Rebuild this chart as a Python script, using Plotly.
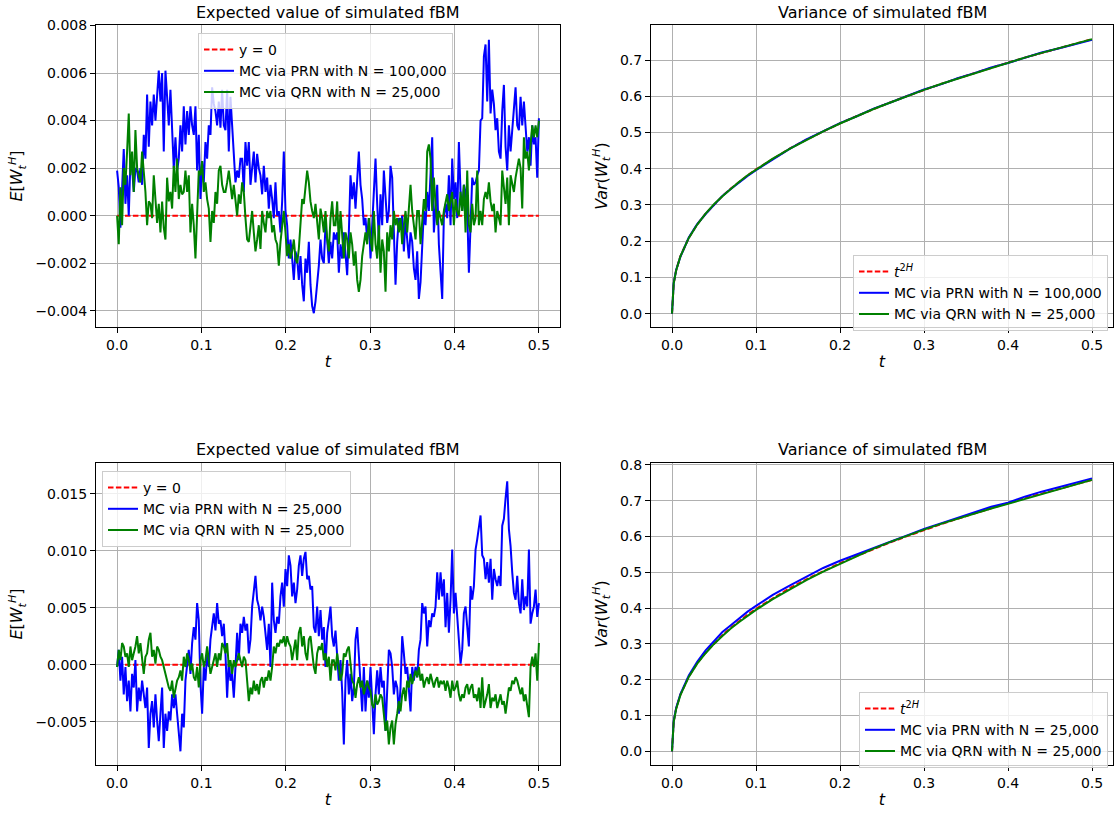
import numpy as np
import plotly.graph_objects as go

# ---------------- data ----------------
N_STEPS = 254
T = np.linspace(0.0, 0.5, N_STEPS)
SCALE = 1e-3  # mean values below are given in units of 1e-3

# Top-left: mean of simulated fBM, PRN N=100,000
TL_PRN = [
    1.9, 1.2, -0.5, 1.3, 2.8, 0.5, 1.7, 0.0, 2.3, 2.0,
    1.0, 2.0, 1.9, 1.4, 2.0, 1.3, 3.4, 2.4, 5.1, 2.9,
    4.8, 3.8, 5.1, 4.0, 5.3, 6.1, 4.8, 6.0, 2.7, 6.1,
    5.0, 3.8, 5.3, 3.4, 2.0, 3.3, 1.9, 2.4, 3.8, 2.7,
    4.6, 3.0, 4.4, 3.4, 4.6, 3.8, 3.4, 4.6, 1.9, 3.4,
    0.7, 2.3, 1.4, 3.1, 2.4, 3.8, 3.4, 5.4, 4.7, 4.4,
    3.8, 4.8, 3.7, 5.3, 3.8, 3.6, 5.3, 2.7, 5.0, 3.8,
    2.7, 1.4, 1.9, 1.6, 2.4, 2.4, 1.0, 3.1, 2.1, 3.1,
    1.3, 2.1, 2.7, 1.4, 2.6, 2.0, 1.7, 0.9, 2.1, 1.0,
    1.6, 0.3, 1.3, 0.7, -0.1, 1.4, 0.0, 0.2, -0.7, 0.6,
    2.7, 0.2, -0.4, -1.8, -1.0, -1.8, -2.7, -1.5, -1.8, -2.7,
    -1.7, -2.9, -3.6, -1.8, -2.4, -1.1, -2.9, -3.8, -4.1, -3.6,
    -2.9, -2.1, -1.0, -1.8, -2.0, -0.4, -1.0, -2.0, -1.1, -1.8,
    -0.7, -1.0,
    -0.7, -2.4, -1.2, -1.8, -0.7, -1.8, -2.5, -0.7, 1.7, 0.7,
    1.4, 0.3, 1.6, 2.7, 1.3, 0.7, -0.4, -0.1, -1.0, -0.1,
    -1.8, -0.4, 1.2, 2.4, 0.5, -1.0, 0.9, -0.4, 1.9, 0.7,
    -0.3, 0.2, 2.1, 1.6, -0.7, -2.9, -1.1, -0.1, -0.4, 0.0,
    -1.5, -0.1, -1.0, -1.8, -0.7, -1.1, -2.2, -2.7, -1.5, -3.5,
    -2.8, -1.5, 0.2, -0.4, 1.0, 0.2, 1.9, 3.3, -0.7, 0.2,
    1.3, -1.2, -2.4, -3.5, 0.0, 0.5, -0.1, 1.7, -0.4, 2.4,
    0.7, 1.4, -0.1, 3.1, 1.0, 0.2, 1.3, 1.0, 0.3, -2.4,
    -0.4, 1.6, 1.3, 1.4, 1.7, 1.9, 4.0, 4.1, 6.7, 7.2,
    4.8, 7.4, 4.3, 5.3, 4.7, 3.6, 4.1, 2.7, 2.4, 4.4,
    5.5, 2.9, 1.9, 3.8, 2.7, 3.7, 4.6, 5.4, 3.8, 3.6,
    5.0, 3.8, 4.8, 3.8, 2.7, 3.3, 2.1, 3.8, 3.0, 3.3,
    1.6, 4.1,
]

# Top-left: mean of simulated fBM, QRN N=25,000
TL_QRN = [
    0.0, -1.2, 1.2, -0.4, 2.0, 1.3, 2.7, 4.3, 1.7, 2.7,
    1.0, 3.6, 2.0, 1.7, 1.4, 2.7, 2.0, 1.0, -0.4, 0.6,
    0.5, -0.1, 1.7, 0.7, -0.3, 0.5, -0.7, 0.6, -0.5, -1.0,
    1.6, 0.6, 1.0, 0.3, 2.1, 1.0, 2.4, 0.7, 1.3, 0.9,
    1.0, 1.9, 1.0, 1.7, -0.7, 0.5, -0.4, -1.8, -0.1, 1.9,
    1.7, 2.3, 1.0, 1.4, 0.7, 0.3, -1.1, 0.2, -0.3, 1.0,
    0.5, 1.9, 2.1, 1.3, 1.0, 1.0, 1.4, 1.9, 1.3, 0.7,
    1.3, 0.6, 0.0, 0.9, 0.5, 1.4, 1.0, -0.1, -1.0, -1.1,
    -0.4, 0.2, -0.7, -1.5, -1.0, -0.4, -1.4, 0.2, -0.3, -0.7,
    0.2, -0.1, 0.2, -0.7, -0.4, -1.0, -1.2, -2.1, -1.1, -0.4,
    0.2, -0.7, -1.7, -1.2, -1.8, -1.5, -1.0, -1.8, -2.0, -1.4,
    -0.4, 0.7, 0.5, 1.3, 1.9, 1.4, 0.6, 0.2, -0.1, 0.5,
    -0.4, -1.0, 0.3, -0.1, -0.7, 0.2, -1.0, -1.5, -0.1, 0.6,
    -0.4, -0.4,
    0.6, -1.2, 0.2, -1.0, -1.8, -0.7, -1.0, -1.8, -0.7, -1.2,
    -2.1, -1.5, -2.7, -3.2, -2.7, -1.7, -1.2, -0.7, -1.2, -0.1,
    -1.0, -1.5, 0.2, -1.2, -1.8, -0.4, -2.4, -1.0, -1.5, -3.2,
    -0.7, -1.5, -0.4, -1.0, 0.2, -0.4, -0.1, -0.7, -0.1, -1.2,
    -0.4, 0.2, -0.7, 0.5, 1.3, 0.2, -0.4, -1.0, 0.2, 0.2,
    -1.2, -0.4, 0.7, 0.2, 2.7, 3.0, 2.4, 0.2, 1.6, 0.5,
    -0.4, 0.2, -0.1, -0.4, 0.2, 0.5, 0.9, 0.2, 0.7, 1.0,
    -0.4, 0.7, 0.2, 0.0, 1.0, 0.2, 1.3, -0.7, 1.9, -0.4,
    -0.7, 0.5, -0.4, -0.1, 1.9, -0.4, 0.2, -0.4, 0.7, 1.0,
    0.7, 1.4, 0.6, 0.2, 0.5, -0.7, 0.2, -0.1, -0.4, 1.9,
    1.3, 0.5, 1.6, -0.4, 1.7, 1.4, 1.0, 1.6, 2.1, 2.4,
    2.0, 0.3, 3.3, 2.4, 2.7, 1.9, 3.0, 3.8, 3.3, 3.8,
    3.3, 4.0,
]

# Bottom-left: mean of simulated fBM, PRN N=25,000
BL_PRN = [
    -0.2, 1.3, -1.4, 0.7, -2.6, -0.2, -3.2, -1.4, -4.1, -0.8,
    -2.0, 0.4, -4.1, -2.0, -3.2, -1.4, -2.6, -3.8, -2.0, -7.3,
    -4.3, -3.2, -5.5, -2.6, -4.9, -6.7, -4.3, -2.0, -7.3, -4.3,
    -5.8, -4.1, -4.9, -2.6, -3.8, -2.6, -4.3, -6.1, -7.6, -4.3,
    -5.5, -1.4, -0.2, 1.3, -0.8, 1.9, 3.3, 2.2, 5.4, 3.9,
    -1.7, -4.3, -0.2, -1.4, 1.0, -0.2, 2.2, 3.3, 4.5, 3.0,
    5.4, 3.6, 3.9, 2.5,
    3.6, 1.0, -2.9, 0.4, -1.4, -0.8, -2.9, -0.2, 2.8, 0.4,
    3.6, 2.8, 4.2, 3.0, 3.6, 1.0, 2.2, 5.1, 6.3, 7.8,
    5.7, 5.1, 3.9, 5.1, 4.2, 2.5, 1.3, 3.6, -0.2, 7.2,
    3.9, 2.8, 4.2, 3.6, 6.0, 7.2, 5.1, 8.4, 6.9, 9.6,
    8.7, 6.0, 7.2, 5.4, 6.6, 8.7, 9.6, 7.8, 9.3, 9.9,
    7.5, 7.8, 6.6, 6.9, 3.3, 2.8, 5.1, 2.5, 4.8, 2.2,
    3.3, -0.2, 2.8, 3.9, 5.1, 2.5,
    1.6, 3.0, 0.4, -1.4, 0.4, -2.3, -7.0, -1.4, 0.4, -2.6,
    -0.8, -3.2, -2.0, 2.2, 3.3, 1.0, -1.4, -4.1, -0.2, -4.1,
    -1.4, -2.9, -0.2, -2.6, -6.1, -2.6, -0.5, -2.6, -0.2, -2.0,
    -1.4, -5.8, -2.6, 1.3, 1.0, -0.2, -2.6, -1.4, -2.0, -4.3,
    -2.0, 2.5, 1.0, -0.8, -0.2, -2.0, -4.1, -0.2, -1.4, -0.2,
    -1.1, 1.3, 2.2, 5.4, 4.5, 5.1, 1.6, 3.9, 3.3, 4.5,
    4.2, 5.1, 8.1, 5.7, 8.1, 6.0,
    7.5, 3.3, 6.3, 2.8, 5.7, 10.1, 4.5, 6.3, 3.9, 2.2,
    0.1, 1.3, 4.5, 5.1, 3.6, 1.6, 6.9, 5.7, 6.9, 10.1,
    11.0, 12.2, 13.1, 9.6, 9.3, 7.5, 9.0, 7.2, 9.3, 5.7,
    8.4, 7.5, 6.9, 7.8, 6.9, 12.2, 12.8, 14.6, 16.1, 11.9,
    10.4, 8.1, 6.3, 5.7, 7.8, 5.4, 4.5, 7.5, 4.8, 6.0,
    5.1, 10.1, 3.6, 4.5, 5.1, 6.6, 4.2, 5.4,
]

# Bottom-left: mean of simulated fBM, QRN N=25,000
BL_QRN = [
    -0.2, 1.3, 0.4, 1.9, 1.6, 0.7, 1.0, -0.2, 1.6, 0.4,
    1.0, 1.6, 2.5, 1.0, 1.9, 0.4, -0.8, 0.7, 1.0, 2.2,
    2.8, 0.7, 1.3, 0.1, 1.6, 1.3, 0.7, 0.4, -0.2, -0.8,
    -1.4, -2.0, -2.3, -1.4, -2.9, -2.0, -1.4, -1.1, -0.5, -1.4,
    0.7, -0.2, 1.0, 0.4, -0.5, 0.1, -1.1, -1.4, -0.2, -2.0,
    0.4, 1.0, -0.2, 0.4, 1.6, 0.4, -0.8, -0.2, 0.4, 1.0,
    -0.2, 1.0, 0.4, 1.9,
    1.6, 1.0, 1.9, -0.2, 0.4, -0.8, 0.4, -0.2, 0.4, 1.0,
    0.4, -0.2, 0.7, 0.4, -1.4, -3.2, -2.0, -2.6, -1.4, -2.3,
    -1.7, -2.6, -1.4, -1.1, -2.0, -1.1, -1.4, -0.5, -1.4, -0.2,
    1.6, 1.0, 1.9, 1.6, 2.2, 1.9, 2.5, 1.6, 2.5, 1.9,
    1.6, 0.4, 1.3, 2.2, 0.4, 2.8, 3.3, 1.6, 2.5, 1.0,
    0.4, 2.2, 2.5, 1.3, -0.2, -0.8, 1.0, 1.6, 1.3, 1.9,
    0.4, 1.0, -0.2, 0.7, -1.4, 0.4,
    0.4, -0.5, 1.0, -0.2, -1.4, -0.8, 1.0, 0.7, 1.3, 1.6,
    -0.2, -1.4, -1.7, -2.9, -1.7, -1.1, -2.0, -1.4, -2.6, -2.0,
    -1.4, -2.0, -2.3, -3.5, -3.8, -2.6, -3.5, -3.2, -2.6, -2.9,
    -4.1, -5.8, -4.9, -7.0, -5.5, -4.9, -7.0, -5.2, -4.3, -3.2,
    -4.1, -2.6, -2.0, -3.2, -1.4, -2.0, -0.8, -1.7, -1.1, -0.5,
    -1.1, -0.2, -1.4, -0.8, -2.0, -1.4, -1.1, -1.7, -0.8, -1.4,
    -2.0, -1.4, -1.1, -2.0, -1.4, -1.7,
    -1.4, -2.3, -1.4, -2.0, -2.9, -1.4, -2.3, -2.0, -1.4, -2.6,
    -3.2, -2.6, -2.9, -2.0, -1.7, -2.6, -2.0, -1.7, -2.9, -2.6,
    -3.2, -2.0, -3.8, -1.1, -3.8, -3.2, -2.6, -1.7, -3.8, -2.9,
    -3.2, -2.6, -3.8, -3.2, -2.6, -3.5, -3.2, -4.3, -2.9, -2.0,
    -2.3, -1.4, -1.7, -1.1, -1.4, -2.0, -2.6, -2.0, -3.2, -2.6,
    -3.8, -4.6, -0.2, 0.7, -0.2, 1.0, -1.4, 1.9,
]

ZERO_T = [0.0, 0.5]
ZERO_Y = [0.0, 0.0]

# Variance panels
VAR_T = [0.0, 0.002, 0.005, 0.01, 0.02, 0.03, 0.04, 0.05, 0.06, 0.07, 0.08,
         0.09, 0.10, 0.12, 0.14, 0.16, 0.18, 0.20, 0.22, 0.24, 0.26, 0.28,
         0.30, 0.32, 0.34, 0.36, 0.38, 0.40, 0.42, 0.44, 0.46, 0.48, 0.50]
VAR_REF = [0.0, 0.0831, 0.1201, 0.1585, 0.2091, 0.2460, 0.2759, 0.3017,
           0.3246, 0.3453, 0.3641, 0.3816, 0.3981, 0.4280, 0.4555, 0.4804,
           0.5035, 0.5253, 0.5456, 0.5650, 0.5834, 0.6009, 0.6178, 0.6339,
           0.6494, 0.6643, 0.6788, 0.6931, 0.7068, 0.7200, 0.7330, 0.7455,
           0.7579]
TR_PRN = [0.0, 0.084, 0.121, 0.157, 0.210, 0.247, 0.275, 0.300, 0.325, 0.344,
          0.363, 0.380, 0.396, 0.426, 0.455, 0.481, 0.503, 0.526, 0.545,
          0.566, 0.583, 0.600, 0.619, 0.633, 0.650, 0.664, 0.680, 0.692,
          0.706, 0.721, 0.732, 0.745, 0.756]
TR_QRN = [0.0, 0.083, 0.120, 0.158, 0.209, 0.246, 0.276, 0.302, 0.324, 0.345,
          0.364, 0.382, 0.398, 0.428, 0.455, 0.480, 0.503, 0.525, 0.546,
          0.565, 0.583, 0.601, 0.618, 0.634, 0.649, 0.664, 0.679, 0.693,
          0.707, 0.720, 0.733, 0.746, 0.758]
BR_PRN = [0.0, 0.085, 0.122, 0.160, 0.212, 0.250, 0.282, 0.309, 0.333, 0.352,
          0.372, 0.390, 0.406, 0.437, 0.463, 0.488, 0.512, 0.532, 0.549,
          0.568, 0.585, 0.603, 0.621, 0.636, 0.651, 0.667, 0.683, 0.694,
          0.711, 0.725, 0.737, 0.748, 0.762]
BR_QRN = [0.0, 0.082, 0.119, 0.157, 0.208, 0.245, 0.274, 0.300, 0.322, 0.343,
          0.361, 0.379, 0.395, 0.425, 0.452, 0.478, 0.502, 0.524, 0.545,
          0.566, 0.585, 0.603, 0.619, 0.635, 0.650, 0.664, 0.678, 0.691,
          0.704, 0.717, 0.731, 0.744, 0.758]

TITLE_MEAN = "Expected value of simulated fBM"
TITLE_VAR = "Variance of simulated fBM"
LBL_ZERO = "y = 0"
LBL_REF = "<i>t</i><sup>2<i>H</i></sup>"
LBL_PRN_100K = "MC via PRN with N = 100,000"
LBL_PRN_25K = "MC via PRN with N = 25,000"
LBL_QRN_25K = "MC via QRN with N = 25,000"

# ---------------- style ----------------
RED, BLUE, GREEN = "#ff0000", "#0000ff", "#008000"
FONT = "DejaVu Sans"
LW = 2
DASH = "5.5px,2.4px"

fig = go.Figure()

def add(x, y, name, color, ax, leg, dash=None):
    fig.add_trace(go.Scatter(
        x=x, y=y, mode="lines", name=name,
        line=dict(color=color, width=LW, dash=dash),
        xaxis="x" + ax, yaxis="y" + ax, legend=leg, hoverinfo="skip"))

tl = np.array(TL_PRN) * SCALE
tq = np.array(TL_QRN) * SCALE
bl = np.array(BL_PRN) * SCALE
bq = np.array(BL_QRN) * SCALE

add(ZERO_T, ZERO_Y, LBL_ZERO, RED, "", "legend", DASH)
add(T, tl, LBL_PRN_100K, BLUE, "", "legend")
add(T, tq, LBL_QRN_25K, GREEN, "", "legend")

add(VAR_T, VAR_REF, LBL_REF, RED, "2", "legend2", DASH)
add(VAR_T, TR_PRN, LBL_PRN_100K, BLUE, "2", "legend2")
add(VAR_T, TR_QRN, LBL_QRN_25K, GREEN, "2", "legend2")

add(ZERO_T, ZERO_Y, LBL_ZERO, RED, "3", "legend3", DASH)
add(T, bl, LBL_PRN_25K, BLUE, "3", "legend3")
add(T, bq, LBL_QRN_25K, GREEN, "3", "legend3")

add(VAR_T, VAR_REF, LBL_REF, RED, "4", "legend4", DASH)
add(VAR_T, BR_PRN, LBL_PRN_25K, BLUE, "4", "legend4")
add(VAR_T, BR_QRN, LBL_QRN_25K, GREEN, "4", "legend4")

W, H = 1115, 815
XL = [96 / W, 560 / W]
XR = [651 / W, 1113 / W]
YT = [1 - 327 / H, 1 - 25 / H]
YB = [1 - 765 / H, 1 - 463 / H]

common = dict(showline=True, linecolor="black", linewidth=1, mirror=True,
              ticks="outside", ticklen=5, tickwidth=1, tickcolor="black",
              showgrid=True, gridcolor="#b0b0b0", gridwidth=1, zeroline=False,
              automargin=False, tickfont=dict(size=14, color="black"))

def xax(dom, anchor):
    return dict(domain=dom, anchor=anchor, range=[-0.025, 0.525], dtick=0.1,
                tick0=0, tickformat=".1f",
                title=dict(text="<i>t</i>", font=dict(size=16), standoff=4),
                **common)

def yax(dom, anchor, rng, dtick, fmt, title):
    return dict(domain=dom, anchor=anchor, range=rng, dtick=dtick, tick0=0,
                tickformat=fmt,
                title=dict(text=title, font=dict(size=16), standoff=8),
                **common)

E_LBL = "<i>E</i>[<i>W</i><sub><i>t</i></sub><sup><i>H</i></sup>]"
V_LBL = "<i>Var</i>(<i>W</i><sub><i>t</i></sub><sup><i>H</i></sup>)"

def legend(x, y):
    return dict(x=x, y=y, xanchor="left", yanchor="top",
                bgcolor="rgba(255,255,255,0.8)", bordercolor="#cccccc",
                borderwidth=1, font=dict(size=14, color="black"),
                itemwidth=30, tracegroupgap=0)

fig.update_layout(
    width=W, height=H, margin=dict(l=0, r=0, t=0, b=0, autoexpand=False),
    paper_bgcolor="white", plot_bgcolor="white",
    font=dict(family=FONT, color="black", size=14),
    xaxis=xax(XL, "y"), yaxis=yax(YT, "x", [-0.00468, 0.00802], 0.002, ".3f", E_LBL),
    xaxis2=xax(XR, "y2"), yaxis2=yax(YT, "x2", [-0.037, 0.797], 0.1, ".1f", V_LBL),
    xaxis3=xax(XL, "y3"), yaxis3=yax(YB, "x3", [-0.0088, 0.0177], 0.005, ".3f", E_LBL),
    xaxis4=xax(XR, "y4"), yaxis4=yax(YB, "x4", [-0.038, 0.805], 0.1, ".1f", V_LBL),
    legend=legend(198 / W, 1 - 33 / H),
    legend2=legend(853 / W, 1 - 255 / H),
    legend3=legend(102 / W, 1 - 471 / H),
    legend4=legend(859 / W, 1 - 692 / H),
    showlegend=True,
)

for text, xc, yc in [(TITLE_MEAN, sum(XL) / 2, 1 - 12 / H),
                     (TITLE_VAR, sum(XR) / 2, 1 - 12 / H),
                     (TITLE_MEAN, sum(XL) / 2, 1 - 449 / H),
                     (TITLE_VAR, sum(XR) / 2, 1 - 449 / H)]:
    fig.add_annotation(text=text, x=xc, y=yc, xref="paper", yref="paper",
                       showarrow=False, xanchor="center", yanchor="middle",
                       font=dict(size=16, color="black"))

fig.write_html("out.html")
